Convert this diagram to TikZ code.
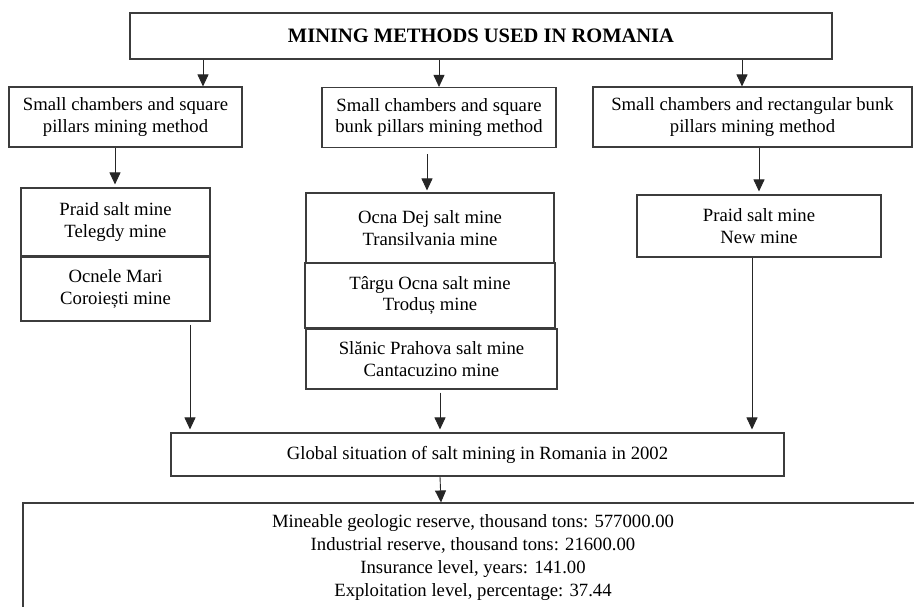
\documentclass[tikz,border=0pt]{standalone}
\usepackage{fontspec}
\setmainfont{Liberation Serif}
\usetikzlibrary{positioning,arrows.meta}
\definecolor{boxline}{RGB}{60,60,60}

\begin{document}
\begin{tikzpicture}[
    x=1pt, y=-1pt,
    every node/.style={inner sep=0pt, align=center, font=\fontsize{18.7}{21.5}\selectfont},
    titlenode/.style={rectangle, draw=boxline, line width=1.1pt, minimum width=702pt, minimum height=46pt, font=\fontsize{20.5}{24}\selectfont\bfseries},
    methodnode/.style={rectangle, draw=boxline, line width=1.1pt, minimum height=60pt},
    minenode/.style={rectangle, draw=boxline, line width=1.1pt},
    datanode/.style={rectangle, draw=boxline, line width=1.1pt, font=\fontsize{18.7}{23}\selectfont},
    arrow/.style={draw=black!85, line width=0.9pt, -{Triangle[width=11pt,length=12pt]}}
]
\useasboundingbox (0,0) rectangle (914,606);
\clip (0,0) rectangle (914,606);

% Title
\node[titlenode] (title) at (481,36) {MINING METHODS USED IN ROMANIA};

% Mining methods
\node[methodnode, minimum width=233pt] (sqr)      at (125.5,117) {Small chambers and square\\pillars mining method};
\node[methodnode, minimum width=234pt] (sqrbunk)  at (439,117.5) {Small chambers and square\\bunk pillars mining method};
\node[methodnode, minimum width=319pt] (rectbunk) at (752.5,117) {Small chambers and rectangular bunk\\pillars mining method};

\draw[arrow] (title.south -| 203,0) -- (sqr.north -| 203,0);
\draw[arrow] (title.south -| 439,0) -- (sqrbunk.north);
\draw[arrow] (title.south -| 742,0) -- (rectbunk.north -| 742,0);

% Salt mines
\node[minenode, minimum width=189pt, minimum height=68pt] (praid)    at (115.5,222) {Praid salt mine\\Telegdy mine};
\node[minenode, minimum width=189pt, minimum height=64pt] (ocnele)   at (115.5,289) {Ocnele Mari\\Coroiești mine};

\node[minenode, minimum width=248pt, minimum height=70pt] (dej)      at (430,228)   {Ocna Dej salt mine\\Transilvania mine};
\node[minenode, minimum width=250pt, minimum height=65pt] (targu)    at (430,295.5) {Târgu Ocna salt mine\\Troduș mine};
\node[minenode, minimum width=251pt, minimum height=60pt] (slanic)   at (431.5,359) {Slănic Prahova salt mine\\Cantacuzino mine};

\node[minenode, minimum width=244pt, minimum height=62pt] (praidnew) at (759,226)   {Praid salt mine\\New mine};

\draw[arrow, shorten >=3pt] (sqr.south -| 115,0) -- (praid.north -| 115,0);
\draw[arrow, shorten <=6pt, shorten >=2pt] (sqrbunk.south -| 427,0) -- (dej.north -| 427,0);
\draw[arrow, shorten >=3pt] (rectbunk.south -| 759,0) -- (praidnew.north);

% Global situation
\node[minenode, minimum width=613pt, minimum height=43pt] (global) at (477.5,454.5) {Global situation of salt mining in Romania in 2002};

\draw[arrow, shorten <=3pt, shorten >=3pt] (ocnele.south -| 190,0) -- (global.north -| 190,0);
\draw[arrow, shorten <=3pt, shorten >=3pt] (slanic.south -| 440,0) -- (global.north -| 440,0);
\draw[arrow, shorten >=3pt] (praidnew.south -| 752,0) -- (global.north -| 752,0);

% Figures for 2002
\node[datanode, minimum width=900pt, minimum height=109pt] (data) at (473,557.5) {Mineable geologic reserve, thousand tons: 577000.00\\Industrial reserve, thousand tons: 21600.00\\Insurance level, years: 141.00\\Exploitation level, percentage: 37.44};

\draw[arrow] (global.south -| 440,0) -- (data.north -| 441,0);

\end{tikzpicture}
\end{document}
